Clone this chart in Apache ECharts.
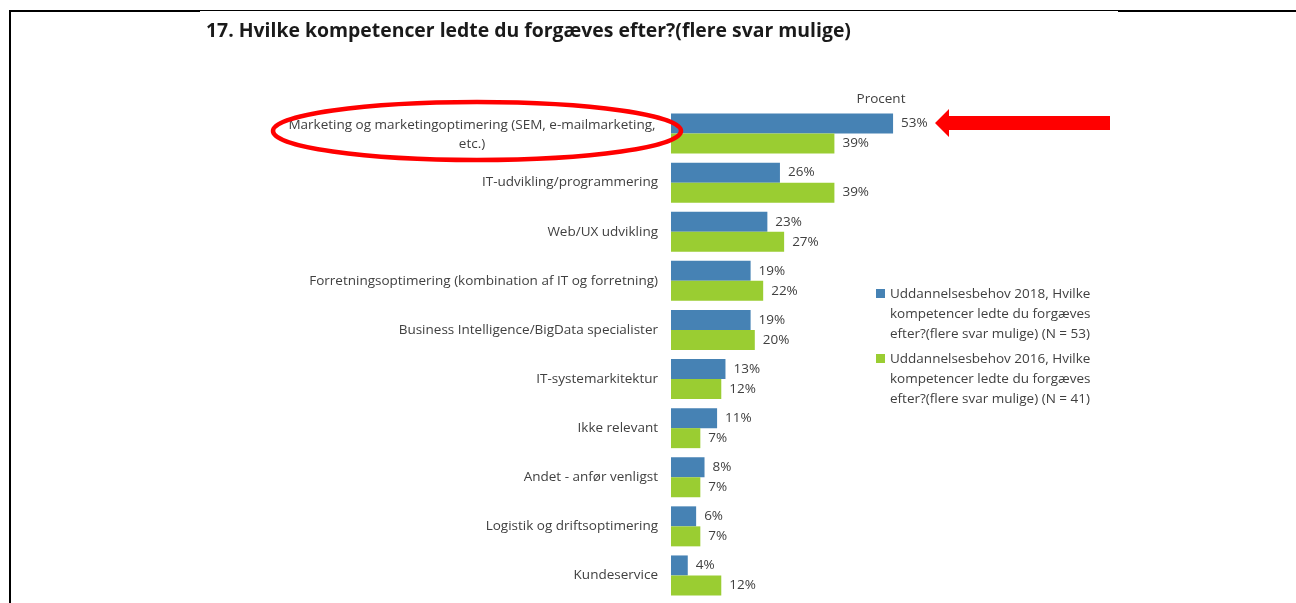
<!DOCTYPE html>
<html>
<head>
<meta charset="utf-8">
<script src="https://cdn.jsdelivr.net/npm/echarts@6/dist/echarts.min.js"></script>
<style>
  html, body { margin: 0; padding: 0; background: #fff; }
  #chart { width: 1296px; height: 603px; }
</style>
</head>
<body>
<div id="chart"></div>
<script>
// kategorier (oppefra og ned)
const categories = [
  "Marketing og marketingoptimering (SEM, e-mailmarketing,\netc.)",
  "IT-udvikling/programmering",
  "Web/UX udvikling",
  "Forretningsoptimering (kombination af IT og forretning)",
  "Business Intelligence/BigData specialister",
  "IT-systemarkitektur",
  "Ikke relevant",
  "Andet - anfør venligst",
  "Logistik og driftsoptimering",
  "Kundeservice"
];
const values2018 = [53, 26, 23, 19, 19, 13, 11, 8, 6, 4];
const values2016 = [39, 39, 27, 22, 20, 12, 7, 7, 7, 12];
const seriesNames = [
  "Uddannelsesbehov 2018, Hvilke\nkompetencer ledte du forgæves\nefter?(flere svar mulige) (N = 53)",
  "Uddannelsesbehov 2016, Hvilke\nkompetencer ledte du forgæves\nefter?(flere svar mulige) (N = 41)"
];

const font = "'Open Sans', sans-serif";
const fs = 13.5;
const txt = "#404040";

const chart = echarts.init(document.getElementById("chart"));

const barLabel = {
  show: true,
  position: "right",
  distance: 8,
  formatter: "{c}%",
  color: txt,
  fontFamily: font,
  fontSize: fs
};

chart.setOption({
  animation: false,
  textStyle: { fontFamily: font },
  grid: { left: 671, right: 206, top: 109, bottom: 3 },
  xAxis: {
    type: "value",
    min: 0,
    max: 100,
    show: false
  },
  yAxis: {
    type: "category",
    inverse: true,
    data: categories,
    axisLine: { show: false },
    axisTick: { show: false },
    axisLabel: {
      margin: 13,
      color: txt,
      fontFamily: font,
      fontSize: fs,
      lineHeight: 19,
      formatter: (v, i) => i === 0 ? "{c|" + v.split("\n").join("}\n{c|") + "}" : v,
      rich: {
        c: { width: 372, align: "center", color: txt, fontFamily: font, fontSize: fs, lineHeight: 19, padding: [2, 0, 0, 0] }
      }
    }
  },
  legend: {
    orient: "vertical",
    left: 876,
    top: 284,
    padding: 0,
    itemGap: 5,
    itemWidth: 9,
    itemHeight: 50,
    // firkant øverst, så den står ud for første tekstlinje
    icon: "path://M0,0H9V9H0Z M0,49.95H0.05V50H0Z",
    textStyle: { color: txt, fontFamily: font, fontSize: fs, lineHeight: 20 },
    data: seriesNames
  },
  graphic: [
    // ramme
    { type: "rect", shape: { x: 9, y: 10, width: 2, height: 593 }, style: { fill: "#000" } },
    { type: "rect", shape: { x: 9, y: 10, width: 191, height: 2 }, style: { fill: "#000" } },
    { type: "rect", shape: { x: 200, y: 10, width: 918, height: 1 }, style: { fill: "#000" } },
    { type: "rect", shape: { x: 1118, y: 10, width: 178, height: 2 }, style: { fill: "#000" } },
    {
      type: "text", x: 206, y: 41,
      style: {
        text: "17. Hvilke kompetencer ledte du forgæves efter?(flere svar mulige)",
        fill: "#1a1a1a", font: "bold 19.4px " + font, verticalAlign: "bottom"
      }
    },
    {
      type: "text", x: 881, y: 99,
      style: { text: "Procent", fill: txt, font: fs + "px " + font, align: "center", verticalAlign: "middle" }
    },
    // rød markering
    {
      type: "ellipse", z: 100,
      shape: { cx: 477, cy: 131, rx: 204, ry: 29 },
      style: { fill: "none", stroke: "#ff0000", lineWidth: 4.5 }
    },
    {
      type: "polygon", z: 100,
      shape: { points: [[935, 123], [949, 109], [949, 116], [1110, 116], [1110, 130], [949, 130], [949, 137]] },
      style: { fill: "#ff0000" }
    }
  ],
  series: [
    {
      name: seriesNames[0],
      type: "bar",
      data: values2018,
      barWidth: 20,
      barGap: "0%",
      itemStyle: { color: "#4682b4" },
      label: barLabel
    },
    {
      name: seriesNames[1],
      type: "bar",
      data: values2016,
      barWidth: 20,
      itemStyle: { color: "#9acd32" },
      label: barLabel
    }
  ]
});
</script>
</body>
</html>
